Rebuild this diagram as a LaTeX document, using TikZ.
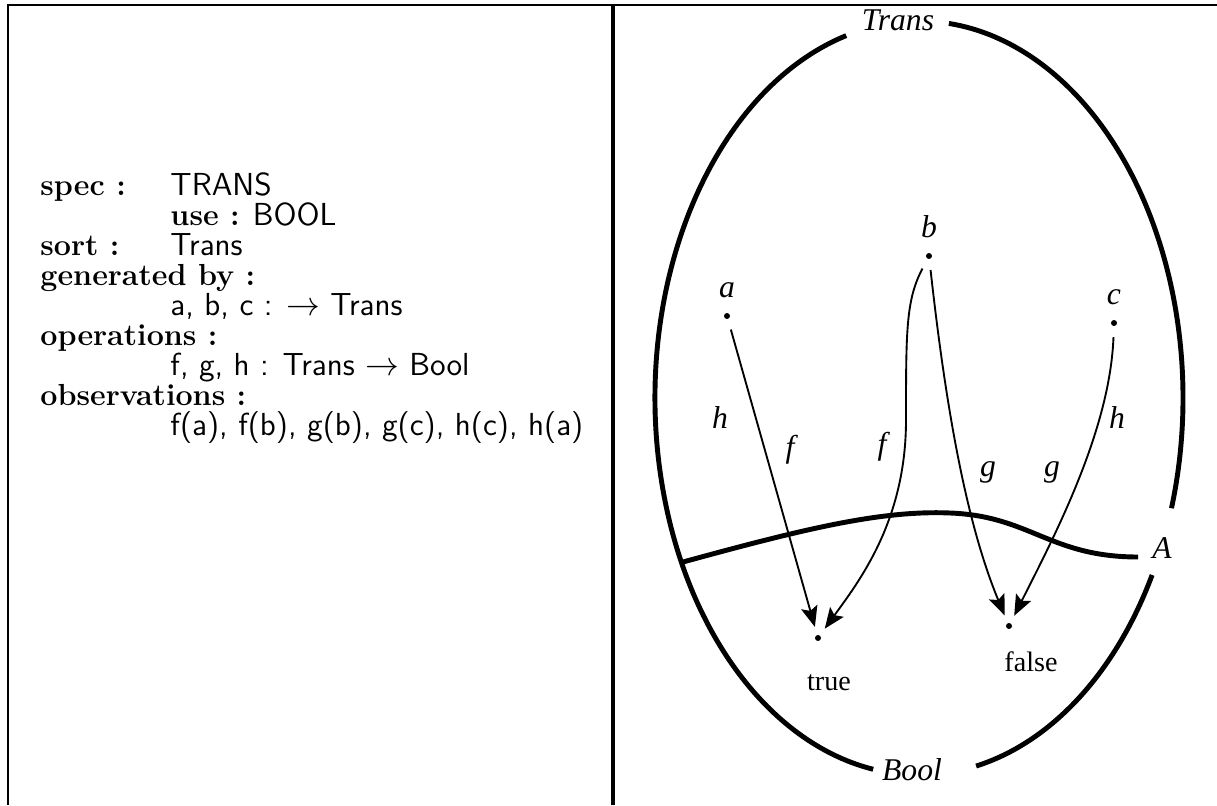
\documentclass[tikz,border=0pt]{standalone}
\usepackage{fontspec}
\newfontfamily\tms{Liberation Serif}
\usetikzlibrary{arrows.meta,positioning}
\newcommand{\colA}[1]{\makebox[1.95cm][l]{#1}}
\newcommand{\specsf}[1]{{\sffamily\fontsize{13.6}{12.8}\selectfont #1}}
\tikzset{
  >={Stealth[length=3.1mm,width=2.5mm,inset=0.6mm]},
  frame/.style={line width=0.9pt},
  sep/.style={line width=1.4pt},
  oval/.style={line width=2.1pt},
  dot/.style={circle,fill,inner sep=0pt,minimum size=0.09cm},
  var/.style={font=\tms\itshape\fontsize{13.5}{15}\selectfont,inner sep=1pt},
  val/.style={font=\tms\fontsize{12}{14}\selectfont,inner sep=1pt},
  map/.style={->,line width=0.8pt,shorten <=0.16cm,shorten >=0.12cm},
  spec/.style={font=\fontsize{13}{12.8}\selectfont,align=left,anchor=west,inner sep=0pt},
}
\begin{document}
\begin{tikzpicture}[x=0.015cm,y=0.015cm]
  \useasboundingbox (0,0) rectangle (1217,805);
  % frame
  \draw[frame] (8,0) -- (8,800) -- (1217,800);
  \draw[sep] (613,0) -- (613,800);

  % specification
  \node[spec] (sp) at (40,497) {%
    \colA{\textbf{spec :}}\specsf{TRANS}\\
    \colA{}\textbf{use :} \specsf{BOOL}\\
    \colA{\textbf{sort :}}\specsf{Trans}\\
    \textbf{generated by :}\\
    \colA{}\specsf{a, b, c : $\rightarrow$ Trans}\\
    \textbf{operations :}\\
    \colA{}\specsf{f, g, h : Trans $\rightarrow$ Bool}\\
    \textbf{observations :}\\
    \colA{}\specsf{f(a), f(b), g(b), g(c), h(c), h(a)}};

  % the two sorts
  \coordinate (o) at (919,407);
  \draw[oval] (o) ++(106:264 and 377) arc[start angle=106,end angle=260,x radius=264,y radius=377];
  \draw[oval] (o) ++(-77.5:264 and 377) arc[start angle=-77.5,end angle=-28,x radius=264,y radius=377];
  \draw[oval] (o) ++(-17:264 and 377) arc[start angle=-17,end angle=83.5,x radius=264,y radius=377];
  \node[var] (trans) at (898,785) {Trans};
  \node[var] (bool) at (912,35) {Bool};
  \node[var] (subA) at (1162,257) {A};
  \draw[oval] (683,243) .. controls (800,275) and (880,295) .. (950,292)
    .. controls (1030,289) and (1050,248) .. (1138,248);

  % elements
  \node[dot] (a) at (727,489) {};
  \node[dot] (b) at (929,549) {};
  \node[dot] (c) at (1114,482) {};
  \node[dot] (tt) at (818,167) {};
  \node[dot] (ff) at (1009,179) {};
  \node[var,above=0.18cm of a] (la) {a};
  \node[var,above=0.18cm of b] (lb) {b};
  \node[var,above=0.18cm of c] (lc) {c};
  \node[val] (ltt) at (829,122) {true};
  \node[val] (lff) at (1031,143) {false};

  % observations
  \draw[map] (a) -- (tt);
  \draw[map] (b) .. controls (906,505) and (906,475) .. (906,385)
    .. controls (906,285) and (860,225) .. (tt);
  \draw[map] (b) .. controls (945,405) and (965,285) .. (ff);
  \draw[map] (c) .. controls (1110,375) and (1055,270) .. (ff);
  \node[var] (ha) at (720,387) {h};
  \node[var] (fa) at (790,355) {f};
  \node[var] (fb) at (882,358) {f};
  \node[var] (gb) at (988,333) {g};
  \node[var] (gc) at (1052,333) {g};
  \node[var] (hc) at (1117,387) {h};
\end{tikzpicture}
\end{document}
